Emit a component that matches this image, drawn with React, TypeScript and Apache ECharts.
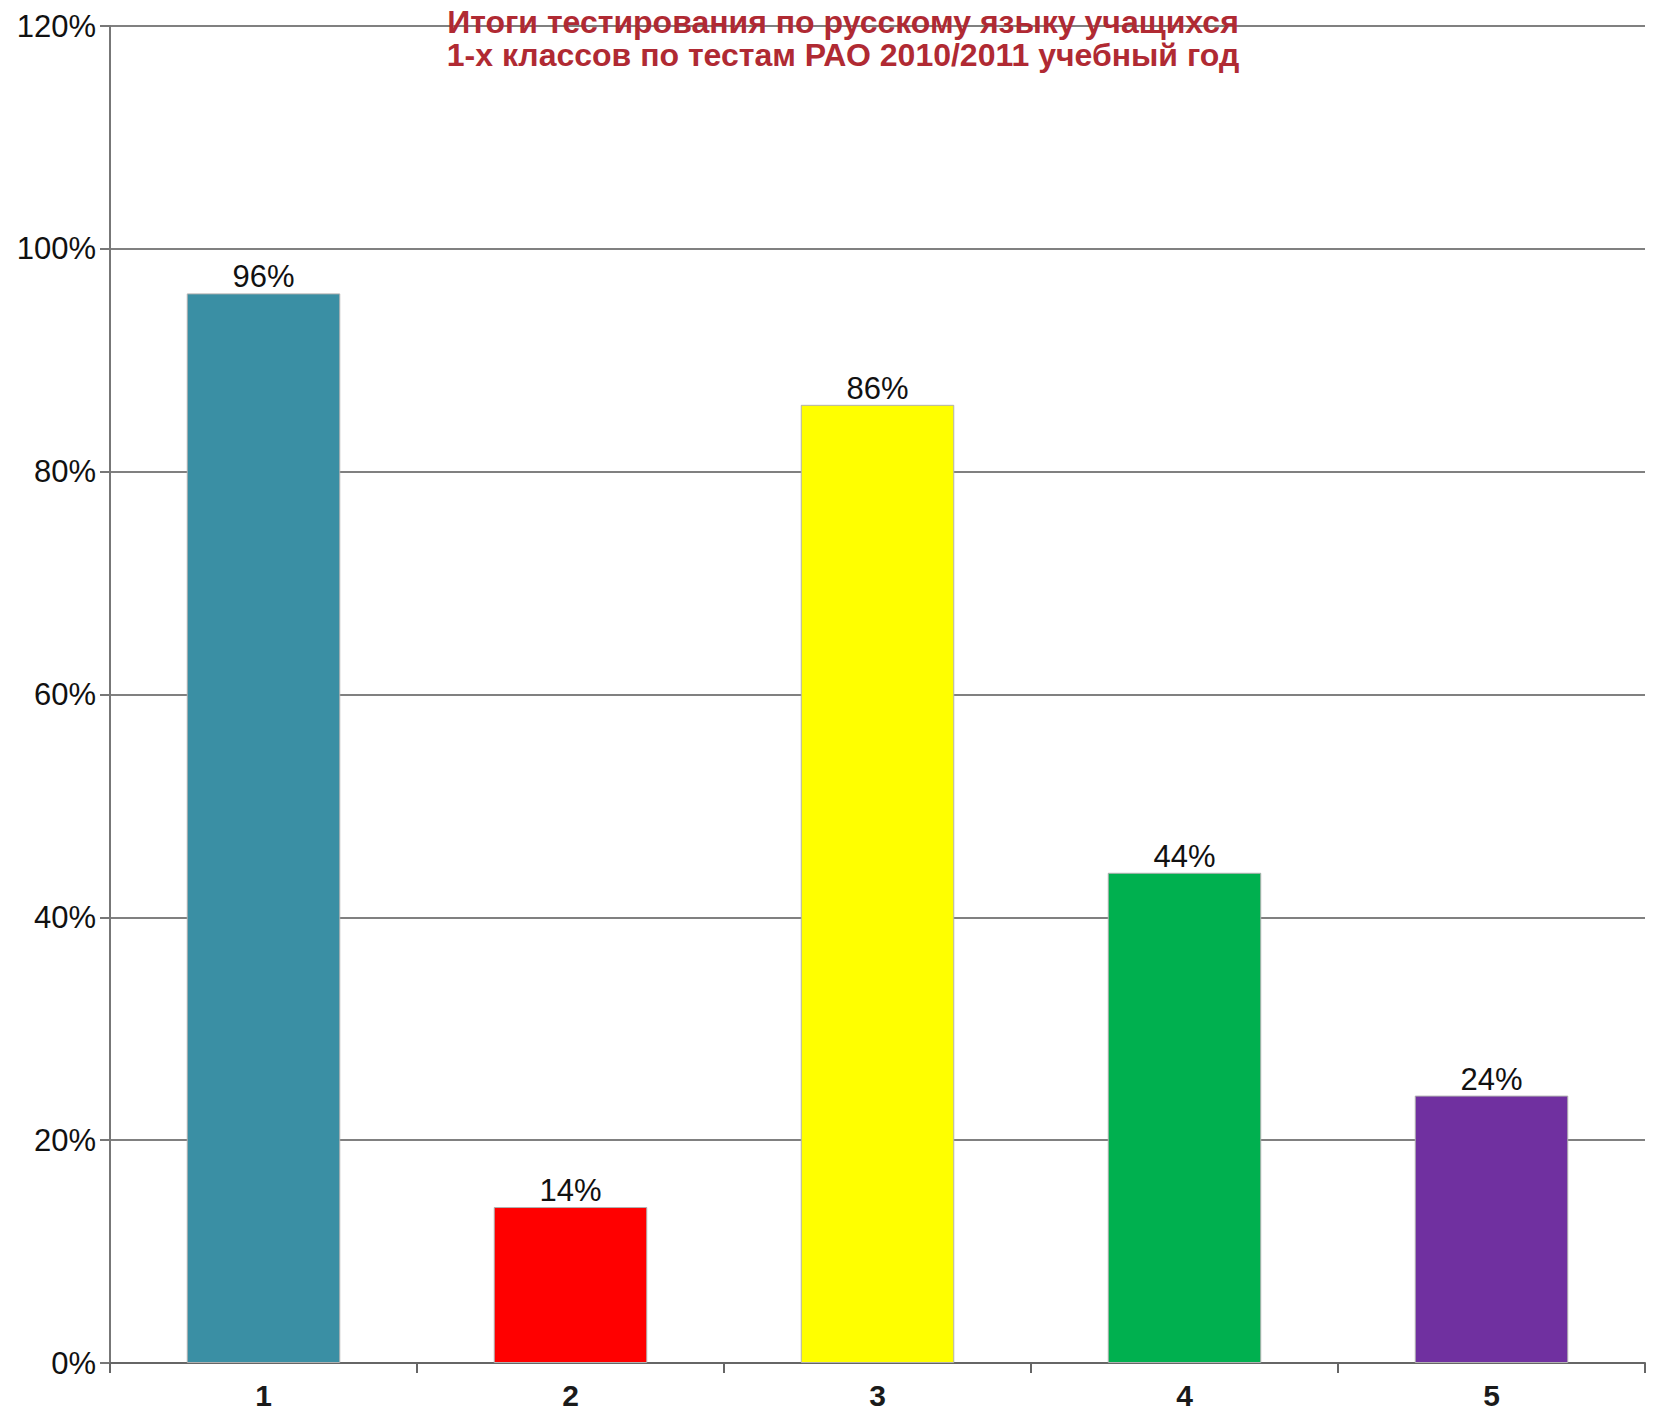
import React, { useEffect, useRef } from "react";
import * as echarts from "echarts";

const categories = ["1", "2", "3", "4", "5"];
const values = [96, 14, 86, 44, 24];
const barColors = ["#3a8fa4", "#ff0000", "#ffff00", "#00b04f", "#7030a0"];
const yTicks = [0, 20, 40, 60, 80, 100, 120];
const titleLines = [
  "Итоги тестирования по русскому языку учащихся",
  "1-х классов по тестам РАО 2010/2011 учебный год",
];

export default function App() {
  const ref = useRef<HTMLDivElement>(null);
  useEffect(() => {
    document.body.style.margin = "0";
    const chart = echarts.init(ref.current!, null, { renderer: "svg" });
    const font = "'Liberation Sans', Arial, sans-serif";
    chart.setOption({
      animation: false,
      backgroundColor: "#ffffff",
      grid: { left: 110, right: 13, top: 26, bottom: 51, containLabel: false },
      title: {
        text: titleLines.join("\n"),
        left: 838,
        top: 0,
        textAlign: "center",
        textStyle: {
          color: "#b02a33",
          fontFamily: font,
          fontWeight: "bold",
          fontSize: 32,
          lineHeight: 33,
        },
      },
      xAxis: {
        type: "category",
        data: categories,
        boundaryGap: true,
        axisLine: { show: true, lineStyle: { color: "#666", width: 2 } },
        axisTick: {
          show: true,
          alignWithLabel: false,
          inside: false,
          length: 10,
          lineStyle: { color: "#666", width: 2 },
        },
        axisLabel: {
          color: "#1a1a1a",
          fontFamily: font,
          fontSize: 30,
          fontWeight: "bold",
          margin: 17,
        },
        splitLine: { show: false },
      },
      yAxis: {
        type: "value",
        min: yTicks[0],
        max: yTicks[yTicks.length - 1],
        interval: 20,
        axisLine: { show: true, lineStyle: { color: "#777", width: 2 } },
        axisTick: { show: true, length: 10, lineStyle: { color: "#777", width: 2 } },
        axisLabel: {
          color: "#111",
          fontFamily: font,
          fontSize: 31,
          margin: 14,
          formatter: (v: number) => `${v}%`,
        },
        splitLine: { show: true, lineStyle: { color: "#808080", width: 2 } },
      },
      series: [
        {
          type: "bar",
          barWidth: "50%",
          data: values.map((v, i) => ({
            value: v,
            itemStyle: { color: barColors[i], borderColor: "#b0b0b0", borderWidth: 1 },
          })),
          label: {
            show: true,
            position: "top",
            distance: 1,
            color: "#111",
            fontFamily: font,
            fontSize: 31,
            formatter: (p: any) => `${p.value}%`,
          },
        },
      ],
    });
    return () => chart.dispose();
  }, []);
  return <div ref={ref} style={{ width: 1658, height: 1414 }} />;
}
